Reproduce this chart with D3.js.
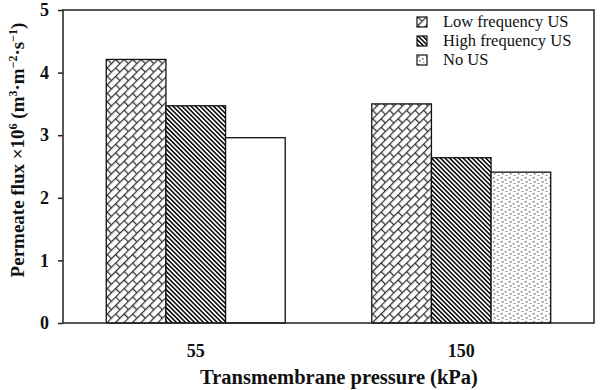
<!DOCTYPE html>
<html>
<head>
<meta charset="utf-8">
<script src="https://cdn.jsdelivr.net/npm/d3@7"></script>
<style>
  body { margin: 0; background: #fff; }
  text { font-family: "Liberation Serif", "Times New Roman", serif; }
</style>
</head>
<body>
<div id="chart"></div>
<script>
// data
const pressures = ['55', '150'];
const seriesNames = ['Low frequency US', 'High frequency US', 'No US'];
const lowFreq = [4.21, 3.50];
const highFreq = [3.47, 2.64];
const noUS = [2.96, 2.41];
const yTicks = [0, 1, 2, 3, 4, 5];

const width = 600, height = 390;
const margin = { top: 10, right: 6, bottom: 67, left: 63 };

const svg = d3.select('#chart').append('svg')
    .attr('width', width)
    .attr('height', height);

const defs = svg.append('defs');

// brick pattern for low frequency
const brick = defs.append('pattern')
    .attr('id', 'brick')
    .attr('patternUnits', 'userSpaceOnUse')
    .attr('width', 12).attr('height', 12)
    .attr('patternTransform', 'rotate(-45)');
brick.append('rect').attr('width', 12).attr('height', 12).attr('fill', '#fff');
brick.append('path')
    .attr('d', 'M0,0.6H12 M0,6.6H12 M0.6,0V6 M6.6,6V12')
    .attr('stroke', '#333').attr('stroke-width', 1.3).attr('fill', 'none');

// dense diagonal lines for high frequency
const stripe = defs.append('pattern')
    .attr('id', 'stripe')
    .attr('patternUnits', 'userSpaceOnUse')
    .attr('width', 3.2).attr('height', 10)
    .attr('patternTransform', 'rotate(-45)');
stripe.append('rect').attr('width', 3.2).attr('height', 10).attr('fill', '#fff');
stripe.append('rect').attr('width', 1.6).attr('height', 10).attr('fill', '#111');

// sparse dots for no US
const dots = defs.append('pattern')
    .attr('id', 'dots')
    .attr('patternUnits', 'userSpaceOnUse')
    .attr('width', 8).attr('height', 8);
dots.append('rect').attr('width', 8).attr('height', 8).attr('fill', '#fff');
[[1, 1], [5, 3], [2, 5], [6, 7]].forEach(p => {
    dots.append('rect').attr('x', p[0]).attr('y', p[1])
        .attr('width', 1.6).attr('height', 1.6).attr('fill', '#777');
});

const fills = ['url(#brick)', 'url(#stripe)', 'url(#dots)'];

const x0 = d3.scaleBand()
    .domain(pressures)
    .range([margin.left, width - margin.right])
    .paddingInner(0.326)
    .paddingOuter(0.163);

const x1 = d3.scaleBand()
    .domain(d3.range(seriesNames.length))
    .range([0, x0.bandwidth()]);

const y = d3.scaleLinear()
    .domain([0, 5])
    .range([height - margin.bottom, margin.top]);

const table = pressures.map((p, i) => ({
    p: p,
    vals: [lowFreq[i], highFreq[i], noUS[i]]
}));

// bars
const groups = svg.append('g')
    .selectAll('g')
    .data(table)
    .enter()
    .append('g')
    .attr('transform', d => `translate(${x0(d.p)},0)`);

groups.selectAll('rect')
    .data(d => d.vals.map((v, k) => ({ v: v, k: k, p: d.p })))
    .enter()
    .append('rect')
    .attr('x', d => x1(d.k))
    .attr('width', x1.bandwidth())
    .attr('y', d => y(d.v))
    .attr('height', d => y(0) - y(d.v))
    // the 55 kPa "No US" bar is plain white in the figure
    .attr('fill', d => (d.k === 2 && d.p === '55') ? '#fff' : fills[d.k])
    .attr('stroke', '#111')
    .attr('stroke-width', 1.3);

// frame
svg.append('rect')
    .attr('x', margin.left)
    .attr('y', margin.top)
    .attr('width', width - margin.left - margin.right)
    .attr('height', height - margin.top - margin.bottom)
    .attr('fill', 'none')
    .attr('stroke', '#222')
    .attr('stroke-width', 1.5);

// y axis
const yAxis = svg.append('g')
    .attr('transform', `translate(${margin.left},0)`)
    .call(d3.axisLeft(y).tickValues(yTicks).tickSize(5).tickPadding(9).tickFormat(d3.format('d')));
yAxis.select('.domain').remove();
yAxis.selectAll('line').attr('stroke', '#222').attr('stroke-width', 1.5);
yAxis.selectAll('text')
    .attr('font-size', 18)
    .attr('font-weight', 'bold')
    .attr('fill', '#111')
    .style('font-family', '"Liberation Serif", serif');

// x axis (labels only)
const xAxis = svg.append('g')
    .attr('transform', `translate(0,${height - margin.bottom})`)
    .call(d3.axisBottom(x0).tickSize(0).tickPadding(21));
xAxis.select('.domain').remove();
xAxis.selectAll('text')
    .attr('font-size', 18)
    .attr('font-weight', 'bold')
    .attr('fill', '#111')
    .style('font-family', '"Liberation Serif", serif');

// axis titles
svg.append('text')
    .attr('x', 339)
    .attr('y', 384)
    .attr('text-anchor', 'middle')
    .attr('font-size', 20.5)
    .attr('font-weight', 'bold')
    .attr('fill', '#111')
    .text('Transmembrane pressure (kPa)');

const yt = svg.append('text')
    .attr('transform', 'translate(24,150) rotate(-90)')
    .attr('text-anchor', 'middle')
    .attr('font-size', 19)
    .attr('font-weight', 'bold')
    .attr('fill', '#111');
yt.append('tspan').text('Permeate flux \u00d710');
yt.append('tspan').attr('dy', -7).attr('font-size', 12).text('6');
yt.append('tspan').attr('dy', 7).text(' (m');
yt.append('tspan').attr('dy', -7).attr('font-size', 12).text('3');
yt.append('tspan').attr('dy', 7).text('\u00b7m');
yt.append('tspan').attr('dy', -7).attr('font-size', 12).text('\u22122');
yt.append('tspan').attr('dy', 7).text('\u00b7s');
yt.append('tspan').attr('dy', -7).attr('font-size', 12).text('\u22121');
yt.append('tspan').attr('dy', 7).text(')');

// legend
const legend = svg.append('g')
    .selectAll('g')
    .data(seriesNames)
    .enter()
    .append('g')
    .attr('transform', (d, i) => `translate(417,${17 + i * 19})`);

legend.append('rect')
    .attr('width', 10).attr('height', 10)
    .attr('fill', (d, i) => fills[i])
    .attr('stroke', '#111')
    .attr('stroke-width', 1.2);

legend.append('text')
    .attr('x', 26)
    .attr('y', 10)
    .attr('font-size', 16.5)
    .attr('fill', '#111')
    .text(d => d);
</script>
</body>
</html>
